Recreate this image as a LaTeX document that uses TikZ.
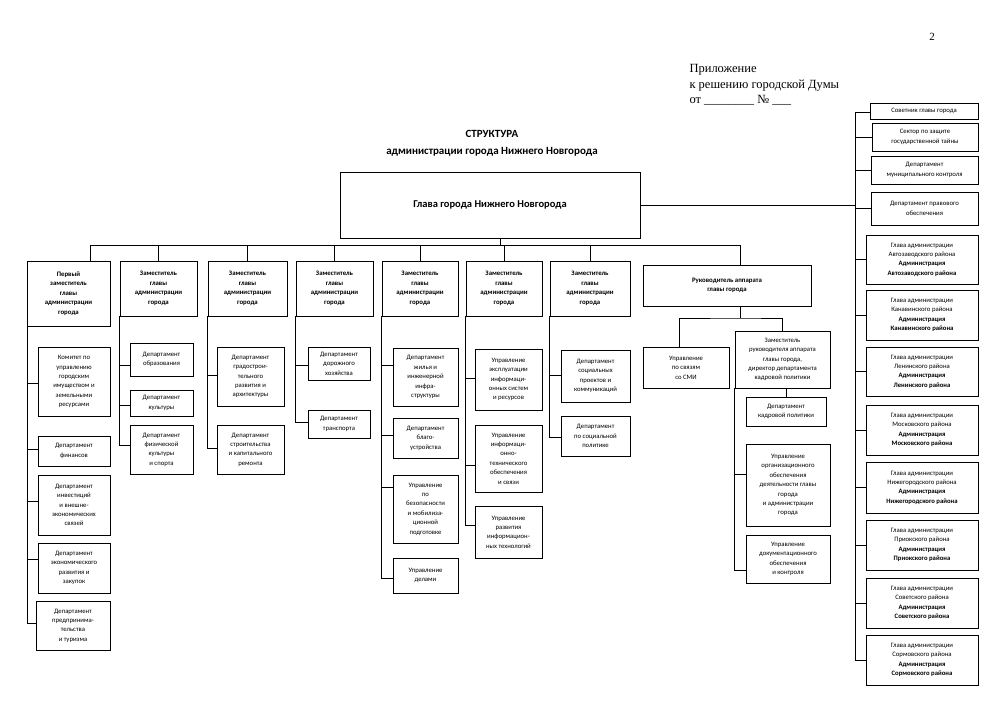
\documentclass[tikz,border=0pt]{standalone}
\usepackage{fontspec}
\setmainfont{Carlito}
\newfontfamily\seriffont{Liberation Serif}
\usetikzlibrary{positioning}

% box from corner (x1,y1) to (x2,y2), in pixels of the page
\newcommand\orgbox[7][]{%
  \node[unit, #1, minimum width={(#5-#3)*1pt}, minimum height={(#6-#4)*1pt}]
    (#2) at ({(#3+#5)/2}, {(#4+#6)/2}) {#7};}

\begin{document}
\begin{tikzpicture}[
            x=1pt, y=-1pt,
            unit/.style={draw, thick, align=center, inner sep=1pt, font=\fontsize{6.7}{9.4}\selectfont},
            boss/.style={font=\fontsize{6.8}{9.6}\selectfont\bfseries},
            link/.style={thick}
        ]
        \useasboundingbox (0,0) rectangle (1000,701);

        % Header
        \node[font=\seriffont\fontsize{11}{13}\selectfont] (page) at (932,37) {2};
        \node[font=\seriffont\fontsize{12.5}{15.5}\selectfont, align=left, anchor=north west] (appx) at (686,61)
            {Приложение\\к решению городской Думы\\от \_\_\_\_\_\_\_\_ № \_\_\_};
        \node[font=\fontsize{11}{17}\selectfont\bfseries, align=center] (title) at (492,143)
            {СТРУКТУРА\\администрации города Нижнего Новгорода};

        % Head
        \orgbox[font=\fontsize{10.5}{12}\selectfont\bfseries]{head}{340}{172}{640}{238}{Глава города Нижнего Новгорода}
        \coordinate (bus) at (500,245);
        \coordinate (rbus) at (855,205);

        % Deputies
        \orgbox[boss]{p1}{27}{261}{110}{326}{Первый\\заместитель\\главы\\администрации\\города}
        \orgbox[boss]{p2}{120}{261}{197}{316}{Заместитель\\главы\\администрации\\города}
        \orgbox[boss]{p3}{208}{261}{287}{316}{Заместитель\\главы\\администрации\\города}
        \orgbox[boss]{p4}{296}{261}{373}{316}{Заместитель\\главы\\администрации\\города}
        \orgbox[boss]{p5}{382}{261}{458}{316}{Заместитель\\главы\\администрации\\города}
        \orgbox[boss]{p6}{466}{261}{542}{316}{Заместитель\\главы\\администрации\\города}
        \orgbox[boss]{p7}{550}{261}{630}{316}{Заместитель\\главы\\администрации\\города}
        \orgbox[boss]{p8}{643}{265}{811}{306}{Руководитель аппарата\\главы города}
        \draw[link] (head.south -| bus) -- (bus);
        \foreach \i in {2,...,7} {
                \draw[link] (p\i.north) |- (bus);
            }
        \draw[link] ([xshift=22]p1.north) |- (bus);
        \draw[link] ([xshift=13]p8.north) |- (bus);

        % Column 1
        \orgbox{a1}{38}{347}{110}{416}{Комитет по\\управлению\\городским\\имуществом и\\земельными\\ресурсами}
        \orgbox{a2}{38}{436}{110}{466}{Департамент\\финансов}
        \orgbox{a3}{38}{475}{110}{535}{Департамент\\инвестиций\\и внешне-\\экономических\\связей}
        \orgbox{a4}{38}{543}{110}{593}{Департамент\\экономического\\развития и\\закупок}
        \orgbox{a5}{36}{601}{110}{650}{Департамент\\предпринима-\\тельства\\и туризма}
        \foreach \c/\y in {a1/383, a2/449, a3/501, a4/559, a5/623} {
                \draw[link] ([xshift=1]p1.south west) |- (\c.west |- 0,\y);
            }

        % Column 2
        \orgbox{b1}{130}{343}{193}{376}{Департамент\\образования}
        \orgbox{b2}{130}{390}{193}{416}{Департамент\\культуры}
        \orgbox{b3}{130}{425}{193}{474}{Департамент\\физической\\культуры\\и спорта}
        \foreach \c/\y in {b1/365, b2/405, b3/445} {
                \draw[link] (p2.south west) |- (\c.west |- 0,\y);
            }

        % Column 3
        \orgbox{c1}{217}{347}{284}{406}{Департамент\\градострои-\\тельного\\развития и\\архитектуры}
        \orgbox{c2}{217}{425}{284}{474}{Департамент\\строительства\\и капитального\\ремонта}
        \foreach \c/\y in {c1/375, c2/448} {
                \draw[link] (p3.south west) |- (\c.west |- 0,\y);
            }

        % Column 4
        \orgbox{d1}{308}{347}{370}{380}{Департамент\\дорожного\\хозяйства}
        \orgbox{d2}{308}{410}{370}{438}{Департамент\\транспорта}
        \foreach \c/\y in {d1/365, d2/422} {
                \draw[link] (p4.south west) |- (\c.west |- 0,\y);
            }

        % Column 5
        \orgbox{e1}{393}{348}{458}{406}{Департамент\\жилья и\\инженерной\\инфра-\\структуры}
        \orgbox{e2}{393}{418}{458}{458}{Департамент\\благо-\\устройства}
        \orgbox{e3}{393}{475}{458}{543}{Управление\\по\\безопасности\\и мобилиза-\\ционной\\подготовке}
        \orgbox{e4}{393}{558}{458}{593}{Управление\\делами}
        \foreach \c/\y in {e1/365, e2/435, e3/487, e4/578} {
                \draw[link] (p5.south west) |- (\c.west |- 0,\y);
            }

        % Column 6
        \orgbox{f1}{475}{349}{542}{410}{Управление\\эксплуатации\\информаци-\\онных систем\\и ресурсов}
        \orgbox{f2}{475}{425}{542}{492}{Управление\\информаци-\\онно-\\технического\\обеспечения\\и связи}
        \orgbox{f3}{475}{506}{542}{558}{Управление\\развития\\информацион-\\ных технологий}
        \foreach \c/\y in {f1/378, f2/465, f3/525} {
                \draw[link] (p6.south west) |- (\c.west |- 0,\y);
            }

        % Column 7
        \orgbox{g1}{561}{350}{630}{402}{Департамент\\социальных\\проектов и\\коммуникаций}
        \orgbox{g2}{561}{416}{630}{456}{Департамент\\по социальной\\политике}
        \foreach \c/\y in {g1/375, g2/437} {
                \draw[link] (p7.south west) |- (\c.west |- 0,\y);
            }

        % Column 8
        \orgbox{h1}{643}{347}{729}{388}{Управление\\по связям\\со СМИ}
        \orgbox{h2}{735}{331}{830}{388}{Заместитель\\руководителя аппарата\\главы города,\\директор департамента\\кадровой политики}
        \coordinate (hbus) at (740,318);
        \draw[link] ([xshift=13]p8.south) -- (hbus);
        \draw[link] ([xshift=-7]h1.north) |- (hbus) -| (h2.north);
        \orgbox{k1}{746}{397}{826}{426}{Департамент\\кадровой политики}
        \orgbox{k2}{746}{444}{830}{526}{Управление\\организационного\\обеспечения\\деятельности главы\\города\\и администрации\\города}
        \orgbox{k3}{746}{535}{830}{583}{Управление\\документационного\\обеспечения\\и контроля}
        \draw[link] (k1.north) -- (k1.north |- h2.south);
        \foreach \c/\y in {k2/474, k3/570} {
                \draw[link] (h2.south west) |- (\c.west |- 0,\y);
            }

        % Right column
        \orgbox{r1}{870}{103}{978}{119}{Советник главы города}
        \orgbox{r2}{872}{123}{978}{151}{Сектор по защите\\государственной тайны}
        \orgbox{r3}{871}{156}{978}{184}{Департамент\\муниципального контроля}
        \orgbox{r4}{871}{192}{978}{225}{Департамент правового\\обеспечения}
        \draw[link] (head.east |- rbus) -- (rbus);
        \foreach \n/\y in {r1/112, r2/137, r3/170, r4/208} {
                \draw[link] (\n.west |- 0,\y) -| (rbus);
            }
        \foreach \n/\t/\b/\dist in {
                s1/235/284/Автозаводского,
                s2/290/340/Канавинского,
                s3/347/396/Ленинского,
                s4/405/455/Московского,
                s5/462/513/Нижегородского,
                s6/520/570/Приокского,
                s7/578/628/Советского,
                s8/635/685/Сормовского} {
                \orgbox{\n}{866}{\t}{978}{\b}{Глава администрации\\\dist\ района\\\textbf{Администрация}\\\textbf{\dist\ района}}
                \draw[link] (\n.west) -| (rbus);
            }
    \end{tikzpicture}
\end{document}
